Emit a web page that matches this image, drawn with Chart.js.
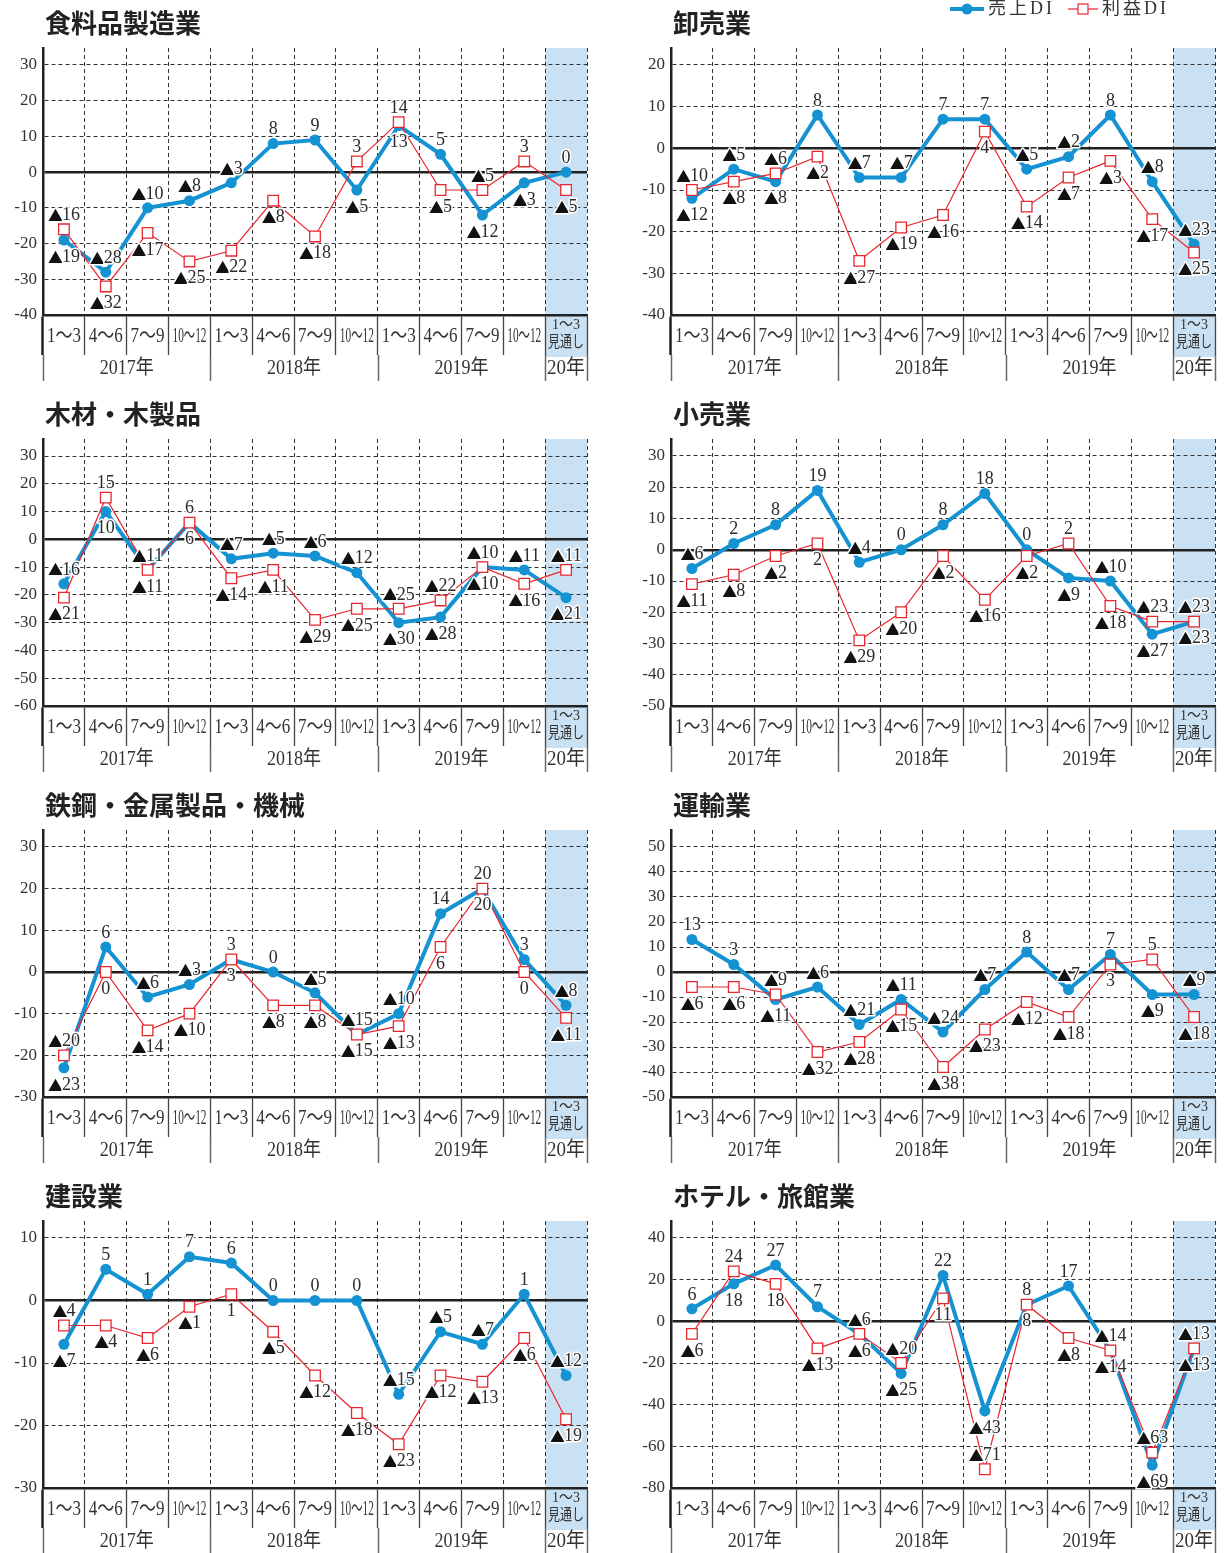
<!DOCTYPE html>
<html>
<head>
<meta charset="utf-8">
<script src="https://cdn.jsdelivr.net/npm/chart.js@4.4.1/dist/chart.umd.min.js"></script>
<style>
  body { margin: 0; background: #fff; width: 1224px; height: 1553px; position: relative; overflow: hidden; }
  .panel { position: absolute; width: 596px; height: 391px; }
</style>
</head>
<body>
<div class="panel" style="left:0;top:0"><canvas id="c0"></canvas></div>
<div class="panel" style="left:628px;top:0"><canvas id="c1"></canvas></div>
<div class="panel" style="left:0;top:391px"><canvas id="c2"></canvas></div>
<div class="panel" style="left:628px;top:391px"><canvas id="c3"></canvas></div>
<div class="panel" style="left:0;top:782px"><canvas id="c4"></canvas></div>
<div class="panel" style="left:628px;top:782px"><canvas id="c5"></canvas></div>
<div class="panel" style="left:0;top:1173px"><canvas id="c6"></canvas></div>
<div class="panel" style="left:628px;top:1173px"><canvas id="c7"></canvas></div>
<script>
// data
const categories = ['1～3', '4～6', '7～9', '10～12', '1～3', '4～6', '7～9', '10～12',
  '1～3', '4～6', '7～9', '10～12', ['1～3', '見通し']];
const yearLabels = ['2017年', '2018年', '2019年', '20年'];
const yearSpans = [4, 4, 4, 1];

const titles = ['食料品製造業', '卸売業', '木材・木製品', '小売業',
  '鉄鋼・金属製品・機械', '運輸業', '建設業', 'ホテル・旅館業'];

const foodSales = [-19, -28, -10, -8, -3, 8, 9, -5, 13, 5, -12, -3, 0];
const foodProfit = [-16, -32, -17, -25, -22, -8, -18, 3, 14, -5, -5, 3, -5];
const wholesaleSales = [-12, -5, -8, 8, -7, -7, 7, 7, -5, -2, 8, -8, -23];
const wholesaleProfit = [-10, -8, -6, -2, -27, -19, -16, 4, -14, -7, -3, -17, -25];
const woodSales = [-16, 10, -11, 6, -7, -5, -6, -12, -30, -28, -10, -11, -21];
const woodProfit = [-21, 15, -11, 6, -14, -11, -29, -25, -25, -22, -10, -16, -11];
const retailSales = [-6, 2, 8, 19, -4, 0, 8, 18, 0, -9, -10, -27, -23];
const retailProfit = [-11, -8, -2, 2, -29, -20, -2, -16, -2, 2, -18, -23, -23];
const steelSales = [-23, 6, -6, -3, 3, 0, -5, -15, -10, 14, 20, 3, -8];
const steelProfit = [-20, 0, -14, -10, 3, -8, -8, -15, -13, 6, 20, 0, -11];
const transportSales = [13, 3, -11, -6, -21, -11, -24, -7, 8, -7, 7, -9, -9];
const transportProfit = [-6, -6, -9, -32, -28, -15, -38, -23, -12, -18, 3, 5, -18];
const constructionSales = [-7, 5, 1, 7, 6, 0, 0, 0, -15, -5, -7, 1, -12];
const constructionProfit = [-4, -4, -6, -1, 1, -5, -12, -18, -23, -12, -13, -6, -19];
const hotelSales = [6, 18, 27, 7, -6, -25, 22, -43, 8, 17, -14, -69, -13];
const hotelProfit = [-6, 24, 18, -13, -6, -20, 11, -71, 8, -8, -14, -63, -13];

// y axis ticks per panel
const yMins = [-40, -40, -60, -50, -30, -50, -30, -80];
const yTops = [30, 20, 30, 30, 30, 50, 10, 40];
const ySteps = [10, 10, 10, 10, 10, 10, 10, 20];

const SERIF = '"Liberation Serif", "DejaVu Serif", "Noto Sans CJK JP", serif';
const CJK = '"Noto Sans CJK JP", sans-serif';
const BLUE = '#1592d2';
const RED = '#e8262d';

function fitText(ctx, text, cx, cy, maxW) {
  const tw = ctx.measureText(text).width;
  const s = tw > maxW ? maxW / tw : 1;
  ctx.save();
  ctx.translate(cx, cy);
  ctx.scale(s, 1);
  ctx.fillText(text, 0, 0);
  ctx.restore();
}

const decor = {
  id: 'decor',
  beforeDraw(chart, args, opts) {
    const { ctx, chartArea: a, scales: { x } } = chart;
    const w = (a.right - a.left) / categories.length;
    ctx.save();
    ctx.fillStyle = '#c9e1f3';
    ctx.fillRect(x.getPixelForValue(12) - w / 2, a.top, w, a.bottom - a.top + 42);
    ctx.fillStyle = '#222';
    ctx.font = 'bold 26px ' + CJK;
    ctx.textBaseline = 'middle';
    ctx.textAlign = 'left';
    ctx.fillText(opts.title, 45, 23);
    ctx.restore();
  },
  afterDatasetsDraw(chart, args, opts) {
    const { ctx, scales: { x, y } } = chart;
    const p = chart.data.datasets[0].data;
    const s = chart.data.datasets[1].data;
    const ov = opts.overrides || {};
    ctx.save();
    ctx.textAlign = 'left';
    ctx.textBaseline = 'middle';
    ctx.lineJoin = 'round';
    const put = (i, v, pos) => {
      const px = x.getPixelForValue(i);
      const py = y.getPixelForValue(v) + (pos === 'above' ? -14 : 17);
      const num = String(Math.abs(v));
      ctx.font = '18px ' + SERIF;
      const nw = ctx.measureText(num).width;
      let tw = 0;
      if (v < 0) {
        ctx.font = '15px ' + CJK;
        tw = ctx.measureText('▲').width - 1;
      }
      let x0 = px - (tw + nw) / 2;
      ctx.strokeStyle = '#fff';
      ctx.lineWidth = 3;
      if (v < 0) {
        ctx.font = '15px ' + CJK;
        ctx.fillStyle = '#111';
        ctx.strokeText('▲', x0, py);
        ctx.fillText('▲', x0, py);
      }
      ctx.font = '18px ' + SERIF;
      ctx.fillStyle = '#2b2b2b';
      ctx.strokeText(num, x0 + tw, py);
      ctx.fillText(num, x0 + tw, py);
    };
    for (let i = 0; i < s.length; i++) {
      let sp = s[i] >= p[i] ? 'above' : 'below';
      let pp = sp === 'above' ? 'below' : 'above';
      if (ov[i]) { sp = ov[i][0]; pp = ov[i][1]; }
      put(i, s[i], sp);
      put(i, p[i], pp);
    }
    ctx.restore();
  },
  afterDraw(chart, args, opts) {
    const { ctx, chartArea: a, scales: { x } } = chart;
    const w = (a.right - a.left) / categories.length;
    ctx.save();
    ctx.fillStyle = '#333';
    ctx.textAlign = 'center';
    ctx.textBaseline = 'middle';
    categories.forEach((c, i) => {
      const cx = x.getPixelForValue(i);
      if (Array.isArray(c)) {
        ctx.font = '15px ' + SERIF;
        fitText(ctx, c[0], cx, a.bottom + 10, 28);
        ctx.font = '16px ' + SERIF;
        fitText(ctx, c[1], cx, a.bottom + 28, 36);
      } else {
        ctx.font = '21px ' + SERIF;
        fitText(ctx, c, cx, a.bottom + 21, 34);
      }
    });
    // year row
    ctx.strokeStyle = '#666';
    ctx.lineWidth = 1.5;
    let start = 0;
    const edge = [0];
    yearLabels.forEach((lab, k) => {
      const x0 = a.left + start * w;
      const x1 = x0 + yearSpans[k] * w;
      ctx.font = '20px ' + SERIF;
      fitText(ctx, lab, (x0 + x1) / 2, a.bottom + 54, yearSpans[k] === 1 ? 38 : 54);
      start += yearSpans[k];
      edge.push(start);
    });
    edge.forEach(e => {
      const ex = Math.round(a.left + e * w) + 0.5;
      ctx.beginPath();
      ctx.moveTo(ex, a.bottom + 40);
      ctx.lineTo(ex, a.bottom + 66);
      ctx.stroke();
    });
    // legend
    if (opts.legend) {
      const ly = 9;
      ctx.strokeStyle = BLUE;
      ctx.lineWidth = 4;
      ctx.beginPath(); ctx.moveTo(322, ly); ctx.lineTo(356, ly); ctx.stroke();
      ctx.fillStyle = BLUE;
      ctx.beginPath(); ctx.arc(339, ly, 5.5, 0, Math.PI * 2); ctx.fill();
      ctx.strokeStyle = RED;
      ctx.lineWidth = 1.2;
      ctx.beginPath(); ctx.moveTo(440, ly); ctx.lineTo(470, ly); ctx.stroke();
      ctx.fillStyle = '#fff';
      ctx.fillRect(450, ly - 5, 10, 10);
      ctx.strokeRect(450, ly - 5, 10, 10);
      ctx.fillStyle = '#333';
      ctx.textAlign = 'left';
      ctx.font = '18px ' + SERIF;
      ctx.letterSpacing = '3px';
      ctx.fillText('売上DI', 360, ly);
      ctx.fillText('利益DI', 474, ly);
    }
    ctx.restore();
  }
};

function makeChart(k, sales, profit, extra) {
  const yMin = yMins[k], yTop = yTops[k], yStep = ySteps[k];
  const yMax = yTop + 17 * (yTop - yMin) / 250;
  const isZero = c => c.tick && c.tick.value === 0;
  new Chart(document.getElementById('c' + k), {
    type: 'line',
    data: {
      labels: categories,
      datasets: [
        { label: '利益DI', data: profit, borderColor: RED, backgroundColor: '#fff',
          borderWidth: 1.2, pointStyle: 'rect', pointRadius: 7.5, pointBorderWidth: 1.3,
          pointBackgroundColor: '#fff', pointBorderColor: RED, tension: 0, order: 0 },
        { label: '売上DI', data: sales, borderColor: BLUE, backgroundColor: BLUE,
          borderWidth: 4, pointStyle: 'circle', pointRadius: 5.5, pointBorderWidth: 0,
          tension: 0, order: 1 }
      ]
    },
    options: {
      responsive: true,
      maintainAspectRatio: false,
      animation: false,
      events: [],
      layout: { padding: { top: 48, right: 9, left: 0, bottom: 0 } },
      plugins: {
        legend: { display: false },
        tooltip: { enabled: false },
        decor: Object.assign({ title: titles[k] }, extra || {})
      },
      scales: {
        x: {
          offset: true,
          grid: {
            offset: true, color: '#333', lineWidth: 1, tickLength: 40,
            tickColor: c => c.index === 0 ? '#222' : '#444',
            tickWidth: c => c.index === 0 ? 2.5 : 1.3
          },
          border: { display: true, color: '#222', width: 2.5, dash: [4, 3] },
          ticks: { display: false },
          afterFit: s => { s.height = 76; }
        },
        y: {
          min: yMin,
          max: yMax,
          afterBuildTicks: s => {
            const t = [];
            for (let v = yMin; v <= yTop; v += yStep) t.push({ value: v });
            s.ticks = t;
          },
          grid: {
            drawTicks: false,
            color: c => isZero(c) ? '#222' : '#333',
            lineWidth: c => isZero(c) ? 2.5 : 1
          },
          border: { display: true, color: '#222', width: 2.5, dash: c => isZero(c) ? [] : [4, 3] },
          ticks: { color: '#333', font: { family: SERIF, size: 17 }, padding: 6 },
          afterFit: s => { s.width = 43; }
        }
      }
    },
    plugins: [decor]
  });
}

makeChart(0, foodSales, foodProfit);
makeChart(1, wholesaleSales, wholesaleProfit, { legend: true });
makeChart(2, woodSales, woodProfit);
makeChart(3, retailSales, retailProfit);
makeChart(4, steelSales, steelProfit);
makeChart(5, transportSales, transportProfit);
makeChart(6, constructionSales, constructionProfit);
makeChart(7, hotelSales, hotelProfit, { overrides: { 7: ['below', 'above'] } });
</script>
</body>
</html>
